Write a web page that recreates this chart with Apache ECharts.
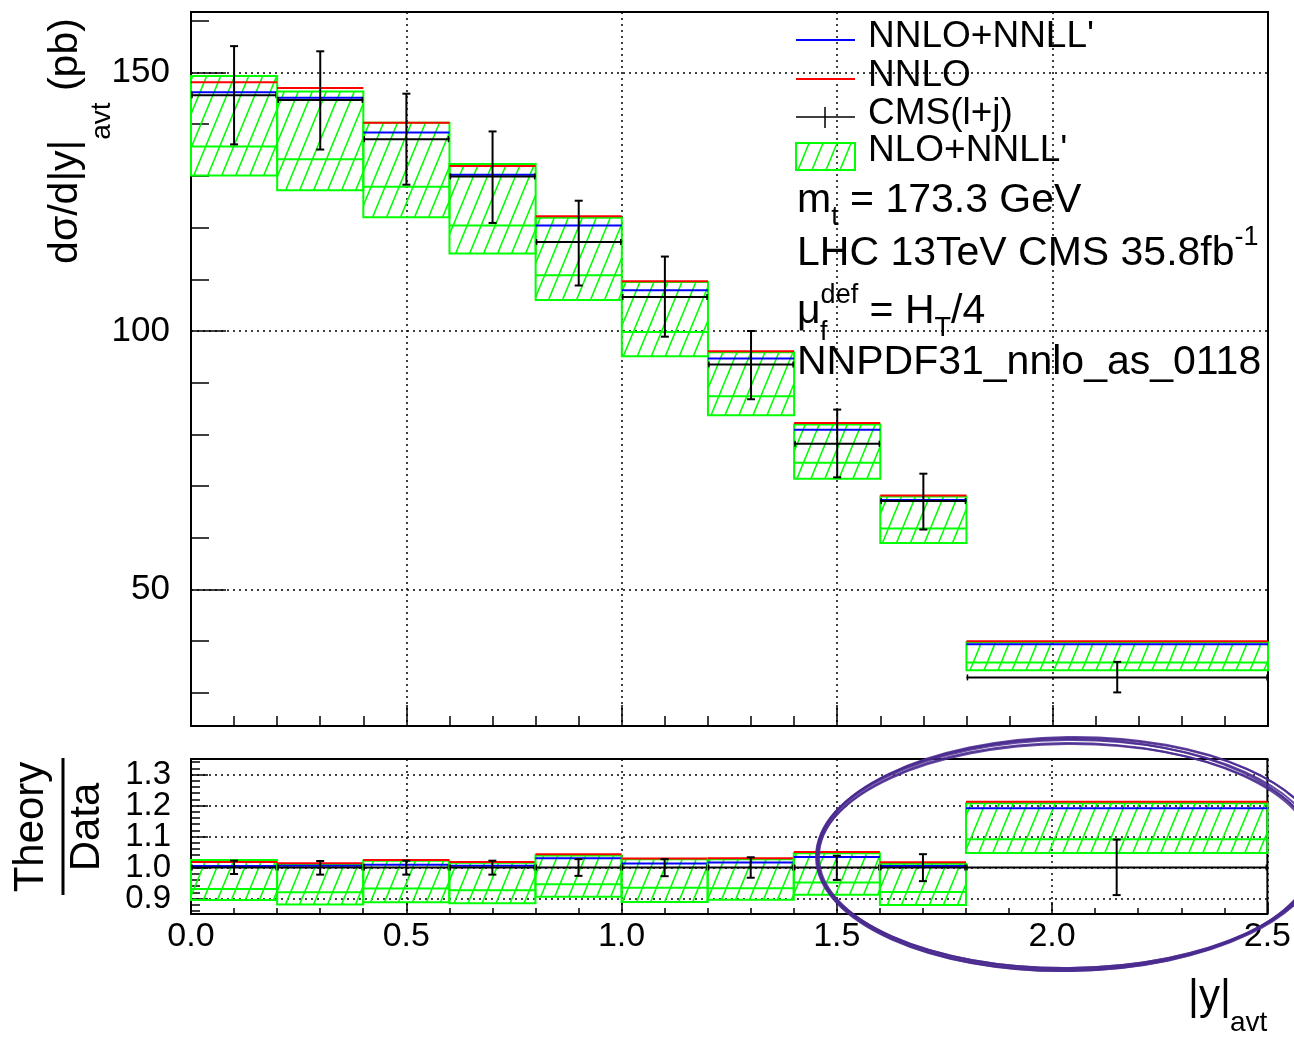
<!DOCTYPE html>
<html><head><meta charset="utf-8">
<script src="https://cdn.jsdelivr.net/npm/echarts@6/dist/echarts.min.js"></script>
<style>html,body{margin:0;padding:0;background:#fff}#c{width:1294px;height:1039px}</style>
</head><body><div id="c"></div>
<script>
// ---------- DATA ----------
const binLo  = [0.0, 0.2, 0.4, 0.6, 0.8, 1.0, 1.2, 1.4, 1.6, 1.8];
const binHi  = [0.2, 0.4, 0.6, 0.8, 1.0, 1.2, 1.4, 1.6, 1.8, 2.5];
const binMid = [0.1, 0.3, 0.5, 0.7, 0.9, 1.1, 1.3, 1.5, 1.7, 2.15];

// upper panel: dsigma/d|y|_avt (pb)
const nnloNnll  = [146.2, 145.1, 138.4, 130.2, 120.4, 107.9, 94.7, 80.9, 67.3, 39.4]; // NNLO+NNLL'
const nnlo      = [148.1, 147.0, 140.3, 131.9, 122.2, 109.6, 96.1, 82.2, 68.2, 40.0]; // NNLO
const cmsVal    = [145.6, 144.7, 137.1, 129.9, 117.2, 106.6, 93.5, 78.2, 67.1, 33.0]; // CMS(l+j)
const cmsUp     = [155.1, 154.1, 145.9, 138.6, 125.2, 114.4, 100.0, 84.8, 72.4, 36.0];
const cmsDown   = [136.1, 135.1, 128.3, 120.9, 108.8, 98.9, 86.8, 71.7, 61.6, 30.1];
const nloNnllUp = [149.3, 146.3, 140.3, 132.3, 121.9, 109.5, 95.9, 81.9, 68.0, 39.8]; // NLO+NNLL' band
const nloNnllCv = [135.7, 133.2, 127.9, 120.4, 110.8, 99.8, 87.4, 74.5, 61.8, 35.9];
const nloNnllDn = [130.1, 127.2, 122.0, 115.0, 106.0, 95.1, 83.7, 71.4, 59.0, 34.4];

// lower panel: Theory / Data
const rNnloNnll  = [1.005, 1.006, 1.009, 1.006, 1.030, 1.013, 1.016, 1.034, 1.005, 1.191];
const rNnlo      = [1.018, 1.014, 1.024, 1.018, 1.043, 1.029, 1.030, 1.050, 1.017, 1.212];
const rData      = [1.0, 1.0, 1.0, 1.0, 1.0, 1.0, 1.0, 1.0, 1.0, 1.0];
const rDataUp    = [1.022, 1.021, 1.022, 1.022, 1.027, 1.027, 1.033, 1.038, 1.043, 1.090];
const rDataDown  = [0.979, 0.977, 0.977, 0.977, 0.973, 0.972, 0.967, 0.960, 0.956, 0.911];
const rNloNnllUp = [1.024, 1.011, 1.022, 1.015, 1.039, 1.027, 1.027, 1.046, 1.012, 1.207];
const rNloNnllCv = [0.931, 0.920, 0.932, 0.927, 0.946, 0.935, 0.933, 0.952, 0.921, 1.091];
const rNloNnllDn = [0.895, 0.881, 0.888, 0.885, 0.906, 0.889, 0.896, 0.912, 0.879, 1.047];

// tick labels
const xTickFmt = v => v.toFixed(1);
const yTopFmt = v => String(v);
const yRatioFmt = v => v.toFixed(1);

// ---------- STYLE ----------
const FONT = '"Liberation Sans", Arial, Helvetica, sans-serif';
const GREEN = '#00ff00', RED = '#ff0000', BLUE = '#0000ff', BLACK = '#000000';

function makeHatch() {
  const w = 14, h = 34;
  const c = document.createElement('canvas');
  c.width = w; c.height = h;
  const ctx = c.getContext('2d');
  ctx.strokeStyle = GREEN; ctx.lineWidth = 1.6;
  for (const dx of [-w, 0, w]) {
    ctx.beginPath(); ctx.moveTo(dx - 1, h + 2.4); ctx.lineTo(dx + w + 1, -2.4); ctx.stroke();
  }
  return c;
}
const hatch = { type: 'pattern', image: makeHatch(), repeat: 'repeat' };

function makeRows(lo, hi, mid, up, cv, dn, red, blue, dat, eu, ed) {
  return lo.map((l, i) => [l, hi[i], mid[i], up[i], cv[i], dn[i], red[i], blue[i], dat[i], eu[i], ed[i]]);
}
const topRows = makeRows(binLo, binHi, binMid, nloNnllUp, nloNnllCv, nloNnllDn, nnlo, nnloNnll, cmsVal, cmsUp, cmsDown);
const ratioRows = makeRows(binLo, binHi, binMid, rNloNnllUp, rNloNnllCv, rNloNnllDn, rNnlo, rNnloNnll, rData, rDataUp, rDataDown);

function renderBin(params, api) {
  const lo = api.value(0), hi = api.value(1), ctr = api.value(2);
  const tl = api.coord([lo, api.value(3)]);
  const br = api.coord([hi, api.value(5)]);
  const x0 = tl[0], x1 = br[0];
  const yMid = api.coord([lo, api.value(4)])[1];
  const yRed = api.coord([lo, api.value(6)])[1];
  const yBlue = api.coord([lo, api.value(7)])[1];
  const d = api.coord([ctr, api.value(8)]);
  const yUp = api.coord([ctr, api.value(9)])[1];
  const yDn = api.coord([ctr, api.value(10)])[1];
  const ln = (a, b, c, e, col, w) => ({ type: 'line', shape: { x1: a, y1: b, x2: c, y2: e }, style: { stroke: col, lineWidth: w } });
  return {
    type: 'group',
    children: [
      { type: 'rect', shape: { x: x0, y: tl[1], width: x1 - x0, height: br[1] - tl[1] },
        style: { fill: hatch, stroke: GREEN, lineWidth: 2 } },
      ln(x0, yMid, x1, yMid, GREEN, 2),
      ln(x0, yRed, x1, yRed, RED, 2),
      ln(x0, yBlue, x1, yBlue, BLUE, 2),
      ln(x0, d[1], x1, d[1], BLACK, 2),
      ln(x0 + 1, d[1] - 3, x0 + 1, d[1] + 3, BLACK, 1.5),
      ln(x1 - 1, d[1] - 3, x1 - 1, d[1] + 3, BLACK, 1.5),
      ln(d[0], yUp, d[0], yDn, BLACK, 2),
      ln(d[0] - 4, yUp, d[0] + 4, yUp, BLACK, 2),
      ln(d[0] - 4, yDn, d[0] + 4, yDn, BLACK, 2)
    ]
  };
}

const tickStyle = { color: BLACK, width: 1.5 };
const gridDot = { show: true, lineStyle: { color: BLACK, width: 1.5, type: [2, 4] } };

// ---------- GRAPHIC (legend, texts) ----------
const L = (x1, y1, x2, y2, col, w) => ({ type: 'line', shape: { x1, y1, x2, y2 }, style: { stroke: col, lineWidth: w }, z: 100 });
const T = (x, y, text, size, extra, rot) => ({ type: 'text', x, y, z: 100, rotation: rot || 0,
  style: Object.assign({ text, fontSize: size, fontFamily: FONT, fill: BLACK, verticalAlign: 'middle', align: 'left' }, extra || {}) });

const mainRich = (size, lh) => ({ fontSize: size, lineHeight: lh, fontFamily: FONT, fill: BLACK });
const graphics = [
  // legend
  L(796, 40, 855, 40, BLUE, 2),
  T(868, 37, "NNLO+NNLL'", 37),
  L(796, 79, 855, 79, RED, 2),
  T(868, 76, 'NNLO', 37),
  L(796, 117, 855, 117, BLACK, 1.5),
  L(825, 107, 825, 128, BLACK, 1.5),
  T(868, 114, 'CMS(l+j)', 37),
  { type: 'rect', shape: { x: 796, y: 143, width: 59, height: 27 }, style: { fill: hatch, stroke: GREEN, lineWidth: 2 }, z: 100 },
  T(868, 151, "NLO+NNLL'", 37),
  // info texts
  { type: 'text', x: 797, y: 201, z: 100, style: { text: '{m|m}{s|t}{m| = 173.3 GeV}', verticalAlign: 'middle',
      rich: { m: mainRich(41, 60), s: { fontSize: 27, lineHeight: 24, verticalAlign: 'bottom', fontFamily: FONT, fill: BLACK } } } },
  { type: 'text', x: 797, y: 254, z: 100, style: { text: '{m|LHC 13TeV CMS 35.8fb}{p|-1}', verticalAlign: 'middle',
      rich: { m: mainRich(41, 60), p: { fontSize: 27, lineHeight: 42, verticalAlign: 'top', fontFamily: FONT, fill: BLACK } } } },
  { type: 'text', x: 797, y: 312, z: 100, style: { text: '{m|μ}{p|def}{m| = H}{s|T}{m|/4}', verticalAlign: 'middle',
      rich: { m: mainRich(41, 60), p: { fontSize: 27, lineHeight: 38, verticalAlign: 'top', fontFamily: FONT, fill: BLACK },
              s: { fontSize: 27, lineHeight: 40, verticalAlign: 'bottom', fontFamily: FONT, fill: BLACK } } } },
  T(820, 333, 'f', 27),
  T(797, 363, 'NNPDF31_nnlo_as_0118', 41),
  // y title (upper)
  { type: 'text', x: 66, y: 141, rotation: Math.PI / 2, z: 100, style: { text: '{m|dσ/d|y|}{s|avt}{m| (pb)}', align: 'center', verticalAlign: 'middle',
      rich: { m: mainRich(41, 100), s: { fontSize: 28, lineHeight: 46, verticalAlign: 'bottom', fontFamily: FONT, fill: BLACK } } } },
  // ratio title
  T(31, 827, 'Theory', 42, { align: 'center' }, Math.PI / 2),
  T(87, 827, 'Data', 42, { align: 'center' }, Math.PI / 2),
  L(63, 758, 63, 895, BLACK, 3),
  // x title
  T(1188, 997, '|y|', 42),
  T(1230, 1023, 'avt', 28)
];

// hand-drawn purple ellipse annotation (several overlapping strokes)
const ellipses = [
  [1068, 855, 251, 115, 0.010],
  [1067, 856, 248, 113, 0.004],
  [1069, 854, 253, 117, 0.014],
  [1068, 856, 250, 112, 0.008],
  [1070, 853, 253, 115, 0.012],
  [1066, 855, 249, 116, 0.007]
];
ellipses.forEach(e => graphics.push({ type: 'ellipse', x: e[0], y: e[1], rotation: e[4], z: 200,
  shape: { cx: 0, cy: 0, rx: e[2], ry: e[3] }, style: { fill: 'none', stroke: '#4a2a8f', lineWidth: 2, opacity: 0.85 } }));

// ---------- OPTION ----------
const option = {
  animation: false,
  backgroundColor: '#ffffff',
  grid: [
    { left: 191, top: 12, width: 1077, height: 714, show: true, borderColor: BLACK, borderWidth: 2, backgroundColor: 'transparent' },
    { left: 191, top: 759, width: 1077, height: 155, show: true, borderColor: BLACK, borderWidth: 2, backgroundColor: 'transparent' }
  ],
  xAxis: [
    { gridIndex: 0, type: 'value', min: 0, max: 2.5, interval: 0.5,
      axisLine: { show: false }, axisLabel: { show: false },
      axisTick: { inside: true, length: 21, lineStyle: tickStyle },
      minorTick: { show: true, splitNumber: 5, length: 10, lineStyle: tickStyle },
      splitLine: gridDot },
    { gridIndex: 1, type: 'value', min: 0, max: 2.5, interval: 0.5,
      axisLine: { show: false },
      axisLabel: { show: true, fontSize: 34, margin: 6, color: BLACK, fontFamily: FONT, formatter: xTickFmt },
      axisTick: { inside: true, length: 12, lineStyle: tickStyle },
      minorTick: { show: true, splitNumber: 5, length: 6, lineStyle: tickStyle },
      splitLine: gridDot }
  ],
  yAxis: [
    { gridIndex: 0, type: 'value', min: 23.6, max: 161.7, splitNumber: 3,
      axisLine: { show: false },
      axisLabel: { show: true, fontSize: 35, margin: 21, color: BLACK, fontFamily: FONT, formatter: yTopFmt, showMinLabel: false, showMaxLabel: false },
      axisTick: { inside: true, length: 35, lineStyle: tickStyle },
      minorTick: { show: true, splitNumber: 5, length: 18, lineStyle: tickStyle },
      splitLine: gridDot },
    { gridIndex: 1, type: 'value', min: 0.85, max: 1.35, splitNumber: 5,
      axisLine: { show: false },
      axisLabel: { show: true, fontSize: 33, margin: 20, color: BLACK, fontFamily: FONT, formatter: yRatioFmt, showMinLabel: false, showMaxLabel: false },
      axisTick: { inside: true, length: 17, lineStyle: tickStyle },
      minorTick: { show: true, splitNumber: 5, length: 9, lineStyle: tickStyle },
      splitLine: gridDot }
  ],
  series: [
    { type: 'custom', xAxisIndex: 0, yAxisIndex: 0, renderItem: renderBin, data: topRows, z: 5,
      encode: { x: [0, 1], y: [3, 5] } },
    { type: 'custom', xAxisIndex: 1, yAxisIndex: 1, renderItem: renderBin, data: ratioRows, z: 5,
      encode: { x: [0, 1], y: [3, 5] } }
  ],
  graphic: graphics
};

const chart = echarts.init(document.getElementById('c'), null, { renderer: 'canvas' });
chart.setOption(option);
</script></body></html>
